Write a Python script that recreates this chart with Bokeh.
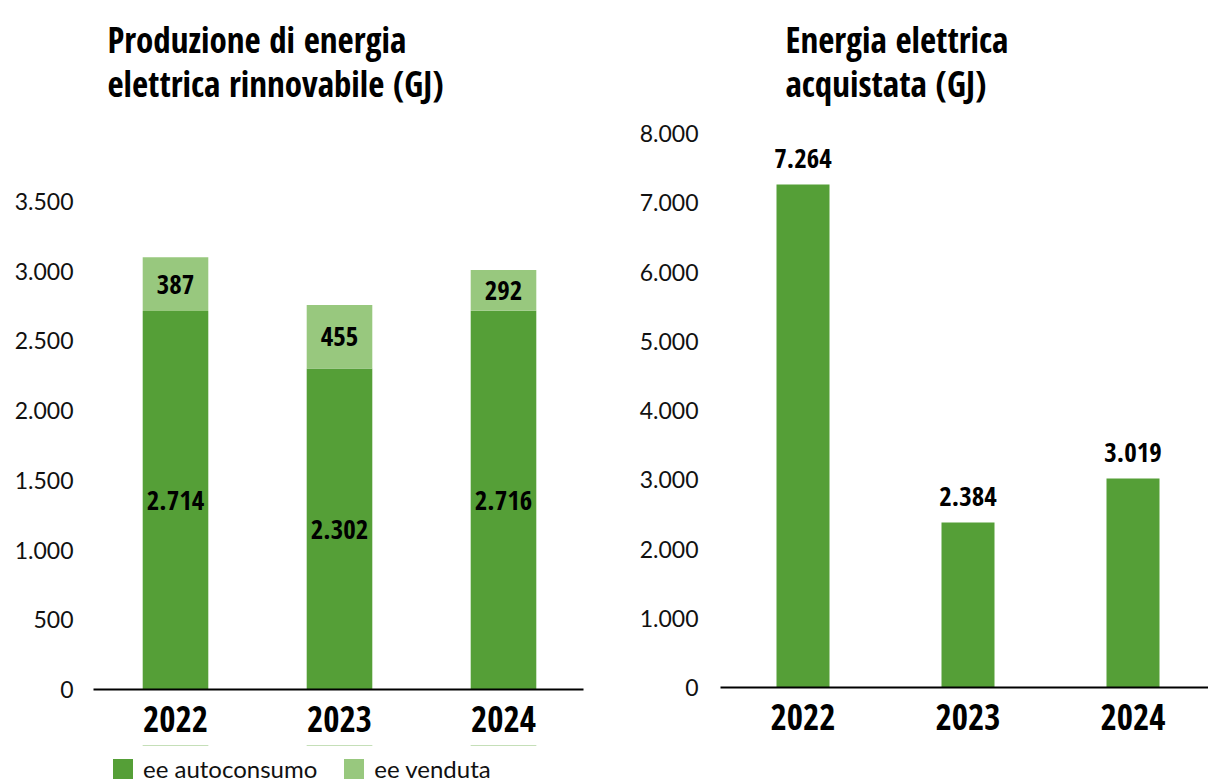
from bokeh.plotting import figure
from bokeh.models import (Range1d, Title, Legend, LegendItem, ColumnDataSource,
                          FixedTicker, LabelSet, CustomJSTickFormatter)
from bokeh.core.properties import value
from bokeh.layouts import row, column
from bokeh.embed import file_html
from bokeh.resources import INLINE

# ---- data ----
years = ["2022", "2023", "2024"]
autoconsumo = [2714, 2302, 2716]
venduta = [387, 455, 292]
acquistata = [7264, 2384, 3019]
left_ticks = [0, 500, 1000, 1500, 2000, 2500, 3000, 3500]
left_tick_labels = ["0", "500", "1.000", "1.500", "2.000", "2.500", "3.000", "3.500"]
right_ticks = [0, 1000, 2000, 3000, 4000, 5000, 6000, 7000, 8000]
right_tick_labels = ["0", "1.000", "2.000", "3.000", "4.000", "5.000", "6.000", "7.000", "8.000"]
title_left = "Produzione di energia\nelettrica  rinnovabile (GJ)"
title_right = "Energia elettrica\nacquistata (GJ)"
legend_labels = ["ee autoconsumo", "ee venduta"]

DARK = "#559f37"
LIGHT = "#98c87e"
COND = "Open Sans Condensed"
REG = "Lato"


def it(v):
    return f"{v:,}".replace(",", ".")


xpos = [i + 0.5 for i in range(len(years))]

year_fmt = CustomJSTickFormatter(args=dict(years=years),
                                 code="return years[Math.floor(tick)] || '';")


def style(p, ticks, labels, standoff):
    p.outline_line_color = None
    p.xgrid.grid_line_color = None
    p.ygrid.grid_line_color = None
    xa = p.xaxis[0]
    xa.ticker = FixedTicker(ticks=xpos)
    xa.formatter = year_fmt
    xa.axis_line_color = "black"
    xa.axis_line_width = 2
    xa.major_tick_line_color = None
    xa.minor_tick_line_color = None
    xa.major_label_text_font = COND
    xa.major_label_text_font_style = "bold"
    xa.major_label_text_font_size = "35px"
    xa.major_label_text_color = "black"
    xa.major_label_standoff = 10
    ya = p.yaxis[0]
    ya.ticker = FixedTicker(ticks=ticks)
    ya.major_label_overrides = dict(zip(ticks, labels))
    ya.axis_line_color = None
    ya.major_tick_line_color = None
    ya.minor_tick_line_color = None
    ya.major_label_text_font = REG
    ya.major_label_text_font_size = "23px"
    ya.major_label_text_color = "#111111"
    ya.major_label_standoff = standoff


def add_title(p, text, offset, standoff, lh):
    p.add_layout(Title(text=text, align="left", offset=offset, text_font=COND,
                       text_font_style="bold", text_font_size="35px",
                       standoff=standoff, text_color="black",
                       text_line_height=lh), "above")


# ---- left chart ----
src_l = ColumnDataSource(dict(
    x=xpos, auto=autoconsumo, vend=venduta,
    auto_mid=[a / 2 for a in autoconsumo],
    vend_mid=[a + v / 2 for a, v in zip(autoconsumo, venduta)],
    auto_lab=[it(a) for a in autoconsumo],
    vend_lab=[it(v) for v in venduta],
))

p1 = figure(width=600, height=745, x_range=Range1d(0, 490 / 164),
            y_range=Range1d(0, 4081), output_backend="svg",
            toolbar_location=None, title_location=None,
            min_border_left=93, min_border_right=17,
            min_border_top=120, min_border_bottom=56)
style(p1, left_ticks, left_tick_labels, 14)
rs = p1.vbar_stack(["auto", "vend"], x="x", width=0.40, color=[DARK, LIGHT],
                   line_color=None, source=src_l)
for ycol, tcol in [("auto_mid", "auto_lab"), ("vend_mid", "vend_lab")]:
    p1.add_layout(LabelSet(x="x", y=ycol, text=tcol, source=src_l,
                           text_align="center", text_baseline="middle",
                           text_font=value(COND), text_font_style="bold",
                           text_font_size="27px", text_color="black"))
add_title(p1, title_left, 14, 27, 0.93)

# ---- legend strip under the left chart (bars fall outside its y range) ----
pleg = figure(width=600, height=39, output_backend="svg", toolbar_location=None,
              title_location=None, x_axis_location=None, y_axis_location=None,
              x_range=Range1d(0, 490 / 164), y_range=Range1d(-2, -1),
              min_border_left=93, min_border_right=17, min_border_top=0,
              min_border_bottom=0)
pleg.outline_line_color = None
pleg.xgrid.grid_line_color = None
pleg.ygrid.grid_line_color = None
lr = pleg.vbar_stack(["auto", "vend"], x="x", width=0.4, color=[DARK, LIGHT],
                     line_color=None, source=src_l)
leg = Legend(items=[LegendItem(label=legend_labels[0], renderers=[lr[0]]),
                    LegendItem(label=legend_labels[1], renderers=[lr[1]])],
             orientation="horizontal", location=(17, 1),
             glyph_width=25, glyph_height=25, label_text_font=REG,
             label_text_font_size="24px", label_text_color="#111111",
             border_line_color=None, background_fill_alpha=0,
             spacing=24, padding=0, margin=0, label_standoff=8)
pleg.add_layout(leg)

# ---- right chart ----
src_r = ColumnDataSource(dict(x=xpos, top=acquistata,
                              lab=[it(v) for v in acquistata]))
p2 = figure(width=608, height=784, x_range=Range1d(0, 488 / 165),
            y_range=Range1d(0, 8188), output_backend="svg",
            toolbar_location=None, title_location=None,
            min_border_left=120, min_border_right=0,
            min_border_top=120, min_border_bottom=97)
style(p2, right_ticks, right_tick_labels, 16)
p2.vbar(x="x", top="top", width=53 / 165, color=DARK, line_color=None,
        source=src_r)
p2.add_layout(LabelSet(x="x", y="top", text="lab", source=src_r,
                       text_align="center", text_baseline="alphabetic",
                       y_offset=16, text_font=value(COND), text_font_style="bold",
                       text_font_size="27px", text_color="black"))
add_title(p2, title_right, 65, 27, 0.93)

layout = row(column(p1, pleg), p2)
open("out.html", "w").write(file_html(layout, INLINE))
